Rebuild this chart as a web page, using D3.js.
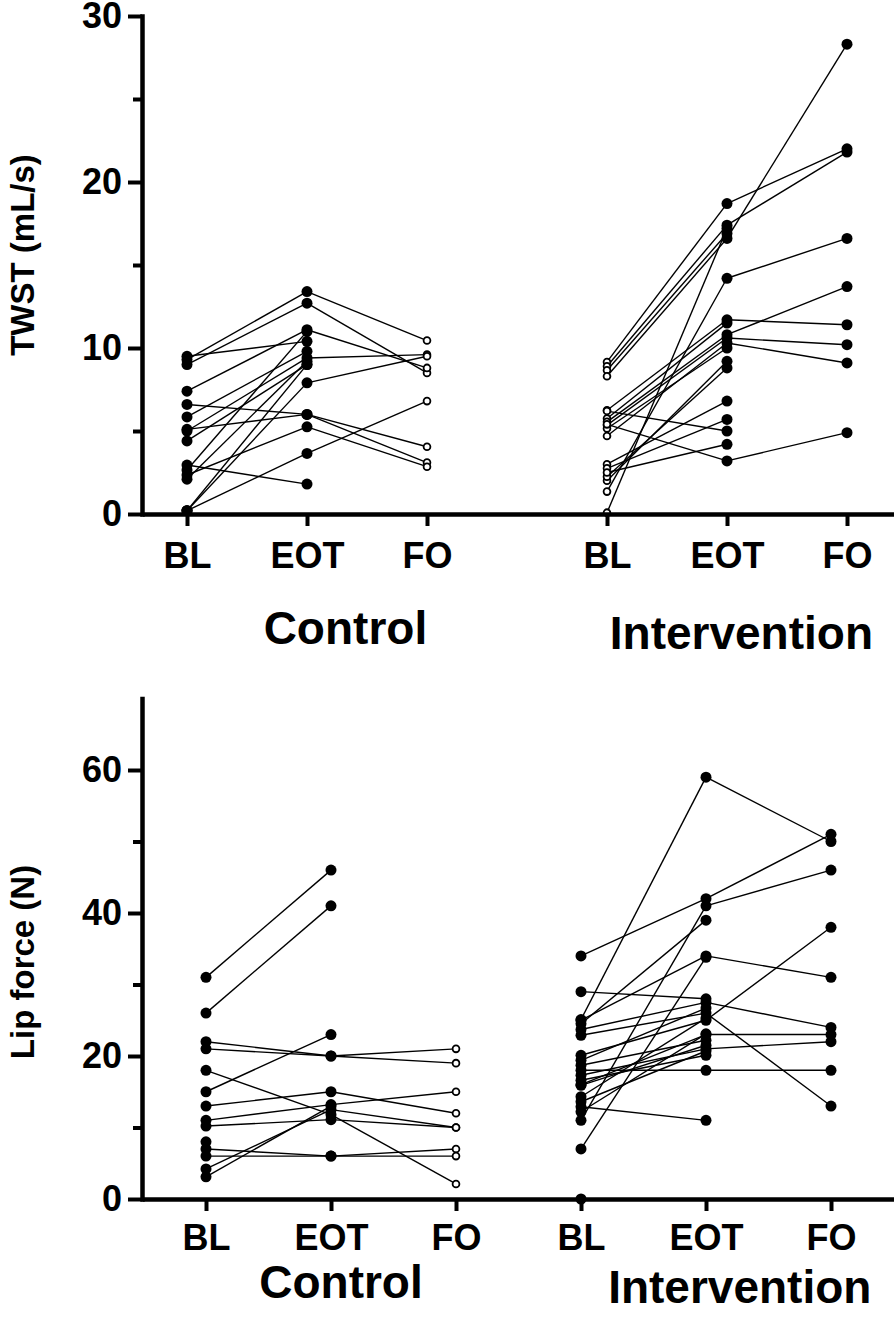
<!DOCTYPE html>
<html>
<head>
<meta charset="utf-8">
<script src="https://cdn.jsdelivr.net/npm/d3@7"></script>
<style>
  html, body { margin: 0; padding: 0; background: #fff; }
  svg { display: block; }
  text { font-family: "Liberation Sans", Arial, Helvetica, sans-serif; font-weight: bold; fill: #000; }
</style>
</head>
<body>
<div id="chart"></div>
<script>
// ---------- data ----------
const stages = ["BL", "EOT", "FO"];
const groups = ["Control", "Intervention"];

// TWST (mL/s) — one entry per participant, null = no value
const twstControlBL  = [9.5, 9.3, 9.0, 7.4, 6.6, 5.85, 5.1, 5.0, 4.4, 2.95, 2.35, 2.65, 0.2, 0.2, 2.1, 0.2];
const twstControlEOT = [10.4, 13.4, 12.7, 11.1, 6.0, 9.8, 6.0, 9.4, 9.0, 1.8, 5.25, 11.0, 3.65, 7.9, 9.2, 9.0];
const twstControlFO  = [null, 10.45, 8.5, 8.8, 3.1, null, 4.05, 9.6, null, null, 2.85, null, 6.8, 9.5, null, null];

const twstInterBL  = [9.16, 8.9, 8.66, 8.3, 0.08, 1.35, 6.25, 5.75, 5.55, 5.35, 4.7, 5.15, 2.0, 2.25, 3.0, 2.75, 6.2, 2.5, 5.4];
const twstInterEOT = [18.7, 17.4, 16.9, 16.6, 17.2, 14.2, 11.7, 11.5, 10.8, 10.6, 10.3, 10.0, 9.2, 8.8, 6.8, 5.7, 5.0, 4.2, 3.2];
const twstInterFO  = [22.0, 21.8, null, 28.3, null, 16.6, 11.4, null, 13.7, 10.2, 9.1, null, null, null, null, null, null, null, 4.9];

// Lip force (N)
const lipControlBL  = [31, 26, 22, 21, 18, 15, 13, 11, 10.2, 8, 7, 6, 4.2, 3.1];
const lipControlEOT = [46, 41, 20, 20, 11.8, 23, 15, 13.2, 11.1, null, 6, 6, 12.5, 13];
const lipControlFO  = [null, null, 21, 19, 2.1, null, 12, 15, 10, null, 7, 6, 10, null];

const lipInterBL  = [34, 25.1, 24.5, 11, 25, 7, 29, 23.7, 22.9, 20.1, 18, 16, 17.3, 12.9, 19.4, 18.7, 16.6, 15.9, 14.3, 13.6, 12.2, 0];
const lipInterEOT = [42, 59, 39, 41, 34, 33.8, 28, 27.5, 26, 25, 18, 23, 21, 11, 26.7, 22.2, 20.1, 21.5, 25.3, 20.7, 23.1, null];
const lipInterFO  = [51, 50, null, 46, 31, null, null, 24, 13, 38, 18, 23, 22, null, null, null, null, null, null, null, null, null];

const twstTicks = [0, 10, 20, 30];
const twstMinor = [5, 15, 25];
const lipTicks = [0, 20, 40, 60];
const lipMinor = [10, 30, 50];

// ---------- drawing ----------
const W = 894, H = 1332;
const svg = d3.select("#chart").append("svg").attr("width", W).attr("height", H);

function panel(cfg) {
  const g = svg.append("g");
  const x = cfg.x, y = cfg.y;

  cfg.sets.forEach(set => {
    const n = set.bl.length;
    const people = d3.range(n).map(i => [set.bl[i], set.eot[i], set.fo[i]]);
    const line = d3.line().x(d => x(set.pos[d.s])).y(d => y(d.v));
    people.forEach(p => {
      for (let s = 0; s < 2; s++) {
        if (p[s] != null && p[s + 1] != null) {
          g.append("path")
            .datum([{s: s, v: p[s]}, {s: s + 1, v: p[s + 1]}])
            .attr("d", line)
            .attr("fill", "none")
            .attr("stroke", "#000")
            .attr("stroke-width", 1.4);
        }
      }
    });
    [set.bl, set.eot, set.fo].forEach((vals, s) => {
      const open = set.open[s];
      g.selectAll(null)
        .data(vals.filter(v => v != null))
        .enter().append("circle")
        .attr("cx", x(set.pos[s]))
        .attr("cy", d => y(d))
        .attr("r", open ? cfg.rOpen : cfg.rFill)
        .attr("fill", open ? "#fff" : "#000")
        .attr("stroke", "#000")
        .attr("stroke-width", open ? 1.8 : 0);
    });
  });

  // y axis major
  const ya = g.append("g").attr("transform", `translate(${x.range()[0]},0)`)
    .call(d3.axisLeft(y).tickValues(cfg.ticks).tickSize(14).tickSizeOuter(0).tickPadding(6).tickFormat(d3.format("d")));
  ya.attr("font-family", null);
  ya.select(".domain").attr("stroke-width", 4.5).attr("stroke-linecap", "square");
  ya.selectAll(".tick line").attr("stroke-width", 4);
  ya.selectAll(".tick text").attr("font-size", 36);
  // y axis minor
  const ym = g.append("g").attr("transform", `translate(${x.range()[0]},0)`)
    .call(d3.axisLeft(y).tickValues(cfg.minor).tickSize(9).tickFormat(""));
  ym.select(".domain").remove();
  ym.selectAll(".tick line").attr("stroke-width", 4);

  // x axis
  const tickPos = [].concat(...cfg.sets.map(s => s.pos));
  const tickLab = [].concat(...cfg.sets.map(() => stages));
  const xa = g.append("g").attr("transform", `translate(0,${y.range()[0]})`)
    .call(d3.axisBottom(x).tickValues(tickPos).tickSize(12).tickSizeOuter(0).tickPadding(cfg.xPad)
      .tickFormat((d, i) => tickLab[i]));
  xa.attr("font-family", null);
  xa.select(".domain").attr("stroke-width", 4.5);
  xa.selectAll(".tick line").attr("stroke-width", 4);
  xa.selectAll(".tick text").attr("font-size", 36);

  // group labels
  cfg.groupLabels.forEach(gl => {
    g.append("text").attr("x", x(gl.at)).attr("y", gl.y)
      .attr("text-anchor", "middle").attr("font-size", 46).text(gl.text);
  });

  // y title
  g.append("text")
    .attr("transform", `translate(${cfg.titleX},${cfg.titleY}) rotate(-90)`)
    .attr("text-anchor", "middle").attr("font-size", 33).text(cfg.title);
}

// top panel
const xTop = d3.scaleLinear().domain([-0.375, 5.9]).range([142, 895]);
const yTop = d3.scaleLinear().domain([0, 30]).range([514, 16]);
panel({
  x: xTop, y: yTop, ticks: twstTicks, minor: twstMinor, rFill: 5.5, rOpen: 3.4, xPad: 16,
  title: "TWST (mL/s)", titleX: 34, titleY: 255,
  sets: [
    {pos: [0, 1, 2], bl: twstControlBL, eot: twstControlEOT, fo: twstControlFO, open: [false, false, true]},
    {pos: [3.5, 4.5, 5.5], bl: twstInterBL, eot: twstInterEOT, fo: twstInterFO, open: [true, false, false]}
  ],
  groupLabels: [
    {text: groups[0], at: 1.32, y: 644},
    {text: groups[1], at: 4.62, y: 649}
  ]
});

// bottom panel
const xBot = d3.scaleLinear().domain([-0.512, 5.512]).range([142, 895]);
const yBot = d3.scaleLinear().domain([0, 70]).range([1199, 698.5]);
panel({
  x: xBot, y: yBot, ticks: lipTicks, minor: lipMinor, rFill: 5.5, rOpen: 3.4, xPad: 13,
  title: "Lip force (N)", titleX: 34, titleY: 962,
  sets: [
    {pos: [0, 1, 2], bl: lipControlBL, eot: lipControlEOT, fo: lipControlFO, open: [false, false, true]},
    {pos: [3, 4, 5], bl: lipInterBL, eot: lipInterEOT, fo: lipInterFO, open: [false, false, false]}
  ],
  groupLabels: [
    {text: groups[0], at: 1.08, y: 1298},
    {text: groups[1], at: 4.27, y: 1303}
  ]
});
</script>
</body>
</html>
